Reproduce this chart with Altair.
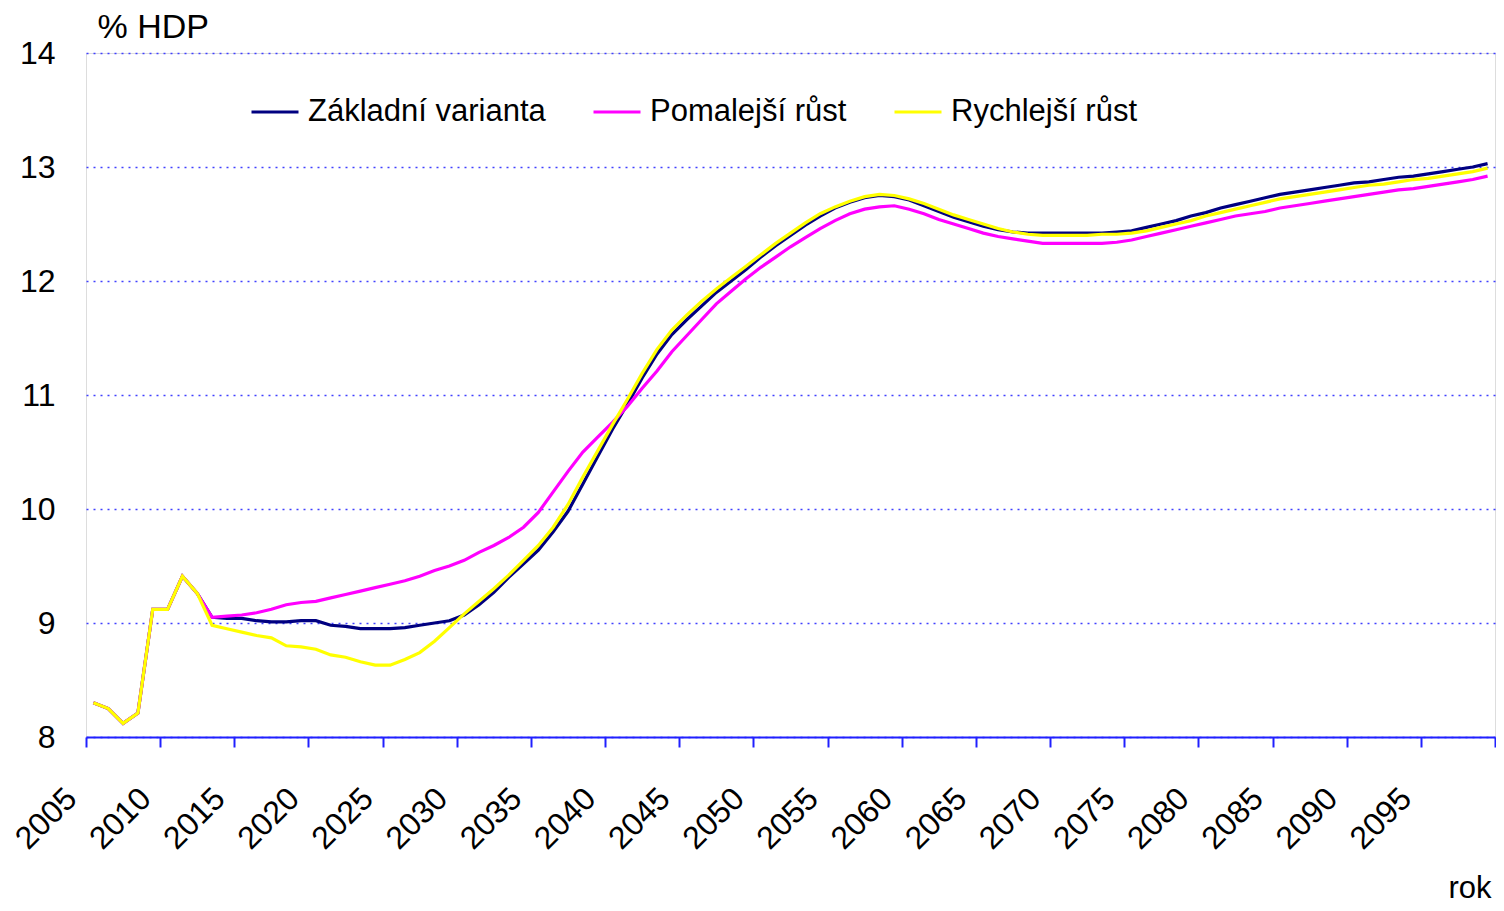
import altair as alt
import pandas as pd

years = list(range(2005, 2100))

history = [8.30, 8.25, 8.12, 8.21, 9.12, 9.12, 9.41, 9.26]  # 2005-2012

zakladni = history + [
    9.05, 9.04, 9.04, 9.02, 9.01, 9.01, 9.02, 9.02, 8.98, 8.97,   # 2013-2022
    8.95, 8.95, 8.95, 8.96, 8.98, 9.00, 9.02, 9.07, 9.16, 9.27,   # 2023-2032
    9.40, 9.52, 9.64, 9.80, 9.98, 10.22, 10.46, 10.70, 10.92, 11.15,  # 2033-2042
    11.36, 11.53, 11.66, 11.78, 11.90, 12.00, 12.10, 12.21, 12.31, 12.40,  # 2043-2052
    12.49, 12.57, 12.64, 12.69, 12.73, 12.75, 12.74, 12.71, 12.66, 12.61,  # 2053-2062
    12.56, 12.52, 12.48, 12.45, 12.43, 12.42, 12.42, 12.42, 12.42, 12.42,  # 2063-2072
    12.42, 12.43, 12.44, 12.47, 12.50, 12.53, 12.57, 12.60, 12.64, 12.67,  # 2073-2082
    12.70, 12.73, 12.76, 12.78, 12.80, 12.82, 12.84, 12.86, 12.87, 12.89,  # 2083-2092
    12.91, 12.92, 12.94, 12.96, 12.98, 13.00, 13.03,                      # 2093-2099
]

pomalejsi = history + [
    9.05, 9.06, 9.07, 9.09, 9.12, 9.16, 9.18, 9.19, 9.22, 9.25,
    9.28, 9.31, 9.34, 9.37, 9.41, 9.46, 9.50, 9.55, 9.62, 9.68,
    9.75, 9.84, 9.97, 10.15, 10.33, 10.50, 10.63, 10.76, 10.90, 11.06,
    11.21, 11.38, 11.52, 11.66, 11.80, 11.91, 12.02, 12.12, 12.21, 12.30,
    12.38, 12.46, 12.53, 12.59, 12.63, 12.65, 12.66, 12.63, 12.59, 12.54,
    12.50, 12.46, 12.42, 12.39, 12.37, 12.35, 12.33, 12.33, 12.33, 12.33,
    12.33, 12.34, 12.36, 12.39, 12.42, 12.45, 12.48, 12.51, 12.54, 12.57,
    12.59, 12.61, 12.64, 12.66, 12.68, 12.70, 12.72, 12.74, 12.76, 12.78,
    12.80, 12.81, 12.83, 12.85, 12.87, 12.89, 12.92,
]

rychlejsi = history + [
    8.98, 8.95, 8.92, 8.89, 8.87, 8.80, 8.79, 8.77, 8.72, 8.70,
    8.66, 8.63, 8.63, 8.68, 8.74, 8.84, 8.96, 9.08, 9.19, 9.30,
    9.42, 9.55, 9.68, 9.84, 10.04, 10.28, 10.51, 10.74, 10.96, 11.19,
    11.40, 11.57, 11.70, 11.82, 11.93, 12.03, 12.13, 12.23, 12.33, 12.42,
    12.51, 12.59, 12.65, 12.70, 12.74, 12.76, 12.75, 12.72, 12.68, 12.63,
    12.58, 12.54, 12.50, 12.46, 12.43, 12.41, 12.40, 12.40, 12.40, 12.40,
    12.41, 12.41, 12.42, 12.44, 12.47, 12.50, 12.53, 12.57, 12.60, 12.63,
    12.66, 12.69, 12.72, 12.74, 12.76, 12.78, 12.80, 12.82, 12.84, 12.85,
    12.87, 12.89, 12.90, 12.92, 12.94, 12.96, 12.99,
]

series_names = ["Základní varianta", "Pomalejší růst", "Rychlejší růst"]
series_colors = ["#000080", "#FF00FF", "#FFFF00"]
x_ticks = list(range(2005, 2101, 5))
y_ticks = [8, 9, 10, 11, 12, 13, 14]

rows = []
for order, (name, vals) in enumerate(zip(series_names, [zakladni, pomalejsi, rychlejsi])):
    for y, v in zip(years, vals):
        rows.append({"rok": y, "hodnota": v, "varianta": name, "poradi": order})
df = pd.DataFrame(rows)

FONT = "Liberation Sans"

chart = (
    alt.Chart(df)
    .transform_calculate(xpos="datum.rok + 0.5")
    .mark_line(strokeWidth=3.2, interpolate="linear")
    .encode(
        x=alt.X(
            "xpos:Q",
            scale=alt.Scale(domain=[2005, 2100], nice=False, zero=False),
            axis=alt.Axis(
                values=x_ticks,
                labelExpr="datum.value >= 2100 ? '' : datum.value",
                labelAngle=-45,
                labelAlign="right",
                labelBaseline="middle",
                labelPadding=46,
                labelOffset=-15,
                labelFont=FONT,
                labelFontSize=32,
                labelColor="#000000",
                labelOverlap=False,
                domainColor="#2020FF",
                domainWidth=2,
                tickColor="#2020FF",
                tickWidth=2,
                tickSize=10,
                grid=False,
                title="rok",
                titleFont=FONT,
                titleFontSize=31,
                titleFontWeight="normal",
                titleColor="#000000",
                titleAlign="right",
                titleBaseline="alphabetic",
                titleAnchor="end",
                titleX=1405,
                titleY=160,
            ),
        ),
        y=alt.Y(
            "hodnota:Q",
            scale=alt.Scale(domain=[8, 14], nice=False, zero=False),
            axis=alt.Axis(
                values=y_ticks,
                labelFont=FONT,
                labelFontSize=32,
                labelColor="#000000",
                labelPadding=31,
                domain=False,
                ticks=False,
                grid=True,
                gridColor="#4040FF",
                gridDash=[2, 5],
                gridWidth=1.5,
                title="% HDP",
                titleFont=FONT,
                titleFontSize=34,
                titleFontWeight="normal",
                titleColor="#000000",
                titleAngle=0,
                titleAlign="left",
                titleBaseline="alphabetic",
                titleX=11,
                titleY=-16,
            ),
        ),
        color=alt.Color(
            "varianta:N",
            scale=alt.Scale(domain=series_names, range=series_colors),
            legend=alt.Legend(
                title=None,
                orient="none",
                direction="horizontal",
                legendX=164,
                legendY=34,
                symbolType="stroke",
                symbolSize=2209,
                symbolStrokeWidth=3,
                labelFont=FONT,
                labelFontSize=31,
                labelColor="#000000",
                labelOffset=8,
                columnPadding=41,
                labelLimit=600,
            ),
        ),
        order=alt.Order("poradi:Q"),
        detail="poradi:Q",
    )
    .properties(
        width=1409,
        height=684,
        padding={"left": 78, "top": 45, "right": 1, "bottom": 170},
        autosize=alt.AutoSizeParams(type="none"),
    )
    .configure_view(stroke=None)
    .configure(background="#FFFFFF")
)

chart.save("out.html", embed_options={"renderer": "svg", "actions": False})
